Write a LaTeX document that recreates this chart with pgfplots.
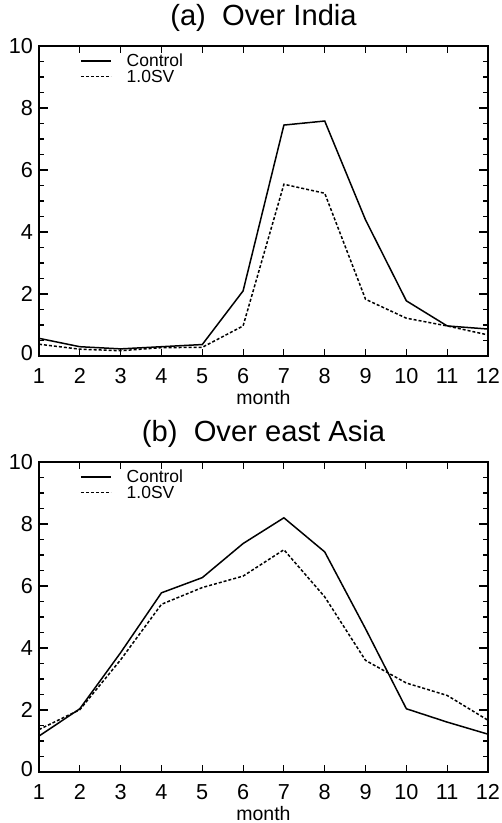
\documentclass[border=0pt]{standalone}
\usepackage{fontspec}
\setmainfont{Liberation Sans}
\usepackage{pgfplots}
\pgfplotsset{compat=1.18}

% monthly values
\newcommand{\ctlIndia}{(1,0.57) (2,0.30) (3,0.23) (4,0.30) (5,0.37) (6,2.10) (7,7.45) (8,7.58) (9,4.39) (10,1.78) (11,0.97) (12,0.87)}
\newcommand{\svIndia}{(1,0.38) (2,0.22) (3,0.17) (4,0.27) (5,0.28) (6,0.97) (7,5.54) (8,5.25) (9,1.83) (10,1.22) (11,0.97) (12,0.68)}
\newcommand{\ctlAsia}{(1,1.16) (2,2.04) (3,3.85) (4,5.78) (5,6.27) (6,7.37) (7,8.20) (8,7.10) (9,4.62) (10,2.04) (11,1.61) (12,1.22)}
\newcommand{\svAsia}{(1,1.37) (2,2.01) (3,3.62) (4,5.41) (5,5.95) (6,6.32) (7,7.17) (8,5.65) (9,3.60) (10,2.87) (11,2.47) (12,1.67)}

\pgfplotsset{
  panel/.style={
    scale only axis,
    width=269.4pt, height=186pt,
    xmin=1, xmax=12, ymin=0, ymax=10,
    xtick={1,...,12},
    xticklabels={1,2,3,4,5,6,7,8,9,10,11,12},
    ytick={0,2,4,6,8,10},
    yticklabels={\raisebox{3.6pt}{0},2,4,6,8,\raisebox{-3.6pt}{10}},
    minor ytick={0.5,1,...,9.5},
    tick pos=both, tick align=inside,
    major tick length=4.2pt, minor tick length=3pt,
    y tick style={/pgfplots/major tick length=5.4pt},
    axis line style={line width=0.8pt},
    every tick/.style={black, line width=0.7pt},
    tick label style={font=\fontsize{13}{15}\selectfont},
    xticklabel style={anchor=base, yshift=-16.2pt, inner sep=0pt},
    yticklabel style={anchor=east, inner sep=0pt, xshift=-3.4pt},
    xlabel={month},
    xlabel style={at={(0.5,0)}, anchor=base, yshift=-28.8pt, inner sep=0pt, font=\fontsize{11.7}{13}\selectfont},
    title style={at={(0.5,1)}, anchor=base, yshift=6.6pt, inner sep=0pt, font=\fontsize{17.5}{20}\selectfont},
    legend style={at={(rel axis cs:0.091,0.978)}, anchor=north west, draw=none, fill=none,
      inner sep=0pt, row sep=0pt, font=\fontsize{10.5}{11}\selectfont,
      nodes={inner sep=0pt, text height=8.2pt, text depth=1.2pt},
      /tikz/every odd column/.append style={column sep=9pt}},
    legend cell align=left,
    legend image code/.code={\draw[#1] (0pt,0pt) -- (18pt,0pt);},
    ctl/.style={black, line width=0.9pt},
    sv/.style={black, line width=0.9pt, dash pattern=on 1.8pt off 1.2pt},
  }
}

\begin{document}
\begin{tikzpicture}
\begin{axis}[panel, at={(23.4pt,-27.6pt)}, anchor=north west,
  title={(a)\ \ Over India}]
\addplot[ctl] coordinates {\ctlIndia};
\addplot[sv] coordinates {\svIndia};
\legend{Control,1.0SV}
\end{axis}
\begin{axis}[panel, at={(23.4pt,-277.2pt)}, anchor=north west,
  title={(b)\ \ Over east Asia}]
\addplot[ctl] coordinates {\ctlAsia};
\addplot[sv] coordinates {\svAsia};
\legend{Control,1.0SV}
\end{axis}
\pgfresetboundingbox
\path[use as bounding box] (0pt,0pt) rectangle (301.2pt,-493.8pt);
\end{tikzpicture}
\end{document}
